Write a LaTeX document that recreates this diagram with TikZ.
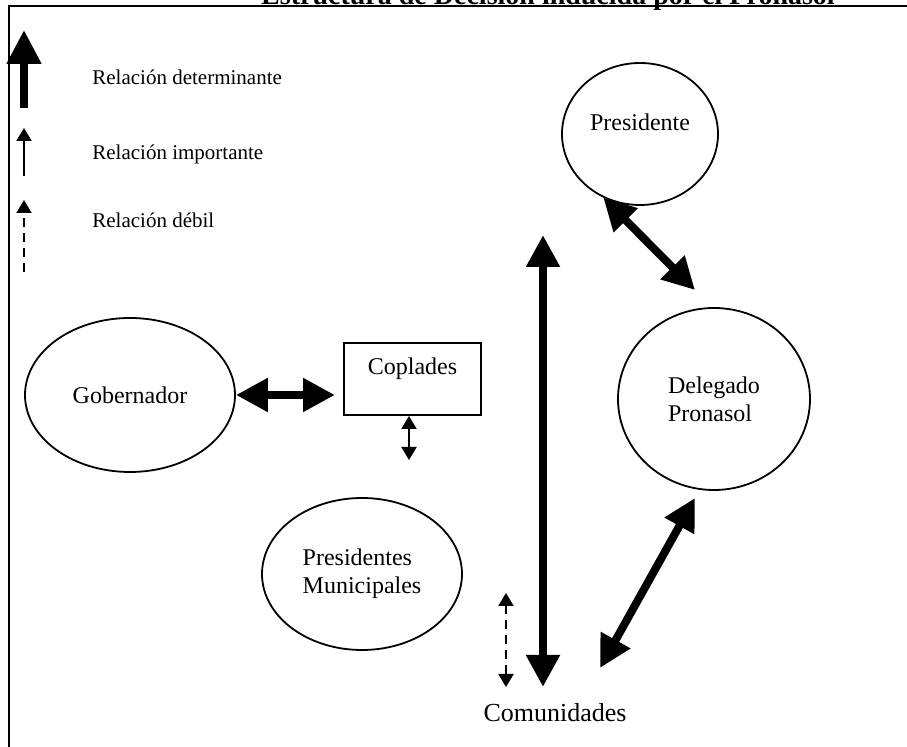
\documentclass[tikz,border=0pt]{standalone}
\usepackage{fontspec}
\setmainfont{Liberation Serif}
\usetikzlibrary{arrows.meta, shapes.geometric}

\tikzset{
  actor/.style={draw, ellipse, line width=0.9pt, inner sep=0pt, align=left,
    font=\fontsize{12}{14}\selectfont},
  heavy/.style={line width=4pt, {Triangle[length=16pt,width=16pt]}-{Triangle[length=16pt,width=16pt]}},
  heavyone/.style={line width=4pt, -{Triangle[length=17pt,width=16.5pt]}},
  medium/.style={line width=1pt, {Triangle[length=6.5pt,width=7.5pt]}-{Triangle[length=6.5pt,width=7.5pt]}},
  mediumone/.style={line width=1pt, -{Triangle[length=6.5pt,width=7.5pt]}},
  weak/.style={dash pattern=on 4.5pt off 3pt},
  legend/.style={anchor=base west, inner sep=0pt, font=\fontsize{10.5}{12}\selectfont},
}

\begin{document}
\begin{tikzpicture}[x=0.5pt, y=-0.5pt]
    \useasboundingbox (0,0) rectangle (907,747);

    % Title and frame
    \node[anchor=base, font=\fontsize{14}{16}\selectfont\bfseries] (title) at (548,4.5)
        {Estructura de Decisión inducida por el Pronasol};
    \draw[line width=1pt] (8.5,747) -- (8.5,6.5) -- (907,6.5);

    % Legend
    \draw[heavyone] (24,108) -- (24,30);
    \draw[mediumone] (24,176) -- (24,128);
    \draw[mediumone, weak] (24,272) -- (24,200);
    \node[legend] (ldet) at (92,85) {Relación determinante};
    \node[legend] (limp) at (92,160) {Relación importante};
    \node[legend] (ldeb) at (92,228) {Relación débil};

    % Actors
    \node[actor, minimum width=78pt, minimum height=71pt, text depth=12pt] (pres) at (640,134) {Presidente};
    \node[actor, minimum width=96pt, minimum height=91pt] (del) at (714,399) {Delegado\\Pronasol};
    \node[actor, minimum width=105pt, minimum height=77pt] (gob) at (130,395) {Gobernador};
    \node[actor, minimum width=100pt, minimum height=76pt] (pm) at (362,574) {Presidentes\\Municipales};
    \node[draw, line width=1pt, inner sep=0pt, minimum width=68.5pt, text height=16pt, text depth=20pt,
        font=\fontsize{12}{14}\selectfont] (cop) at (412.5,379) {Coplades};
    \node[font=\fontsize{13}{15}\selectfont] (com) at (555,713) {Comunidades};

    % Free ends
    \coordinate (presLow) at (543,235);
    \coordinate (comHigh) at (543,687);
    \coordinate (delHigh) at (695,290);
    \coordinate (delLow) at (695,498);
    \coordinate (comRight) at (600,668);
    \coordinate (pmEnd) at (409,460);
    \coordinate (weakTop) at (506,593);
    \coordinate (weakLow) at (506,687);

    % Relations
    \draw[heavy, shorten >=4pt] (gob.east) -- (gob.east -| cop.west);
    \draw[medium] (cop.south -| pmEnd) -- (pmEnd);
    \draw[heavy] (presLow) -- (comHigh);
    \draw[heavy] (pres.240) -- (delHigh);
    \draw[heavy] (delLow) -- (comRight);
    \draw[medium, weak] (weakTop) -- (weakLow);

\end{tikzpicture}
\end{document}
